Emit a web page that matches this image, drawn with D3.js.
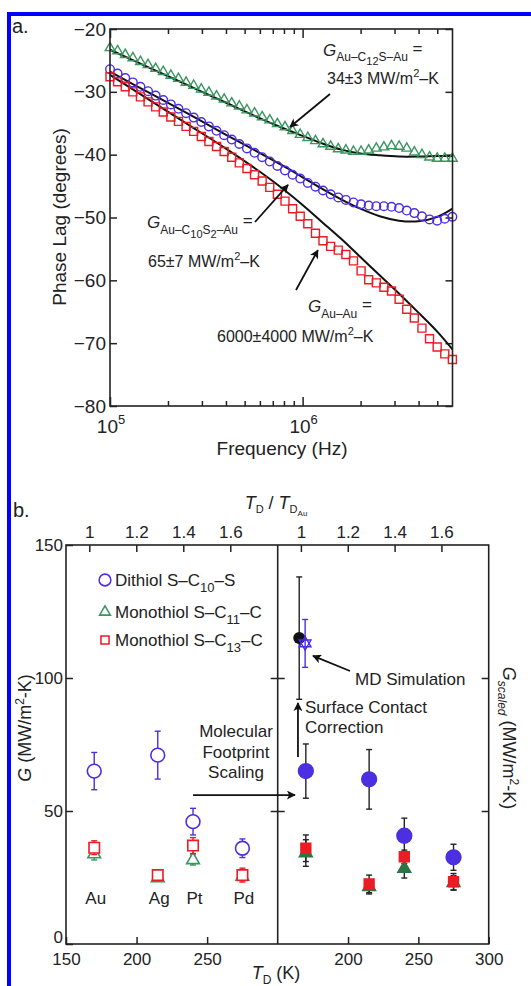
<!DOCTYPE html>
<html>
<head>
<meta charset="utf-8">
<script src="https://cdn.jsdelivr.net/npm/d3@7"></script>
<style>
  body { margin: 0; background: #fff; }
  text { font-family: "Liberation Sans", Arial, sans-serif; fill: #222; }
</style>
</head>
<body>
<div id="chart"></div>
<script>
const width = 531,
  height = 986;

// ---------- panel a : phase lag vs frequency ----------
const freqKHz = [100, 109.5, 120, 131.4, 143.9, 157.6, 172.6, 189, 207, 226.7, 248.3, 271.9, 297.8, 326.1,
  357.3, 391.3, 428.5, 469.3, 514, 562.9, 616.6, 675.2, 739.6, 810, 887.2, 971.6, 1064, 1166, 1276, 1398,
  1531, 1677, 1837, 2012, 2203, 2413, 2642, 2894, 3170, 3472, 3802, 4164, 4560, 4995, 5470, 5991];
const phaseC12 = [-23.0, -23.5, -24.1, -24.6, -25.2, -25.7, -26.3, -26.8, -27.4, -27.9, -28.5, -29.0, -29.6,
  -30.1, -30.7, -31.2, -31.8, -32.3, -32.9, -33.4, -34.0, -34.5, -35.1, -35.6, -36.2, -36.8, -37.3, -37.8,
  -38.3, -38.7, -39.1, -39.3, -39.5, -39.5, -39.3, -39.0, -38.8, -38.6, -38.7, -39.0, -39.6, -40.0, -40.4,
  -40.6, -40.6, -40.6];
const phaseC10S2 = [-26.4, -27.1, -27.8, -28.5, -29.2, -29.9, -30.6, -31.3, -32.0, -32.7, -33.4, -34.1, -34.8,
  -35.5, -36.2, -36.9, -37.6, -38.3, -39.0, -39.7, -40.4, -41.1, -41.8, -42.5, -43.2, -43.8, -44.5, -45.1,
  -45.7, -46.3, -46.8, -47.2, -47.6, -47.9, -48.1, -48.2, -48.2, -48.3, -48.5, -48.9, -49.3, -49.8, -50.3,
  -50.5, -50.2, -49.9];
const phaseAuAu = [-27.6, -28.4, -29.2, -30.0, -30.8, -31.6, -32.4, -33.2, -34.0, -34.7, -35.5, -36.3, -37.1,
  -37.9, -38.7, -39.5, -40.4, -41.3, -42.2, -43.2, -44.2, -45.2, -46.3, -47.4, -48.6, -49.8, -51.0, -52.5,
  -53.7, -54.6, -55.2, -55.9, -56.9, -58.5, -59.9, -60.4, -61.1, -61.7, -63.0, -64.6, -66.0, -67.6, -69.3,
  -70.6, -71.7, -72.6];

// fitted model curves
const fitFreqKHz = [100, 158.5, 251.2, 398.1, 631, 794.3, 1000, 1259, 1585, 1995, 2512, 3162, 3981, 5012, 6000];
const fitC12 = [-23.3, -26.1, -28.9, -31.7, -34.5, -35.8, -37.0, -38.2, -39.2, -39.8, -40.1, -40.3, -40.3, -40.2, -40.2];
const fitC10S2 = [-26.8, -30.1, -33.4, -36.8, -40.1, -41.8, -43.6, -45.4, -47.1, -48.6, -49.8, -50.5, -50.6, -49.9, -48.6];
const fitAuAu = [-27.3, -31.2, -35.1, -39.0, -43.2, -45.5, -48.0, -50.7, -53.4, -56.3, -59.2, -62.1, -65.1, -68.2, -71.0];

const phaseTicks = [-20, -30, -40, -50, -60, -70, -80];
const majorFreq = [1e5, 1e6];
const minorFreq = [2e5, 3e5, 4e5, 5e5, 6e5, 7e5, 8e5, 9e5, 2e6, 3e6, 4e6, 5e6];

// ---------- panel b : conductance vs Debye temperature ----------
const metals = ["Au", "Ag", "Pt", "Pd"];
const debyeT = [170, 215, 240, 275];
const gDithiol = [65, 71, 46, 36];
const eDithiol = [7, 9, 5, 3.5];
const gMono11 = [33.8, 24.8, 31.6, 25.4];
const eMono11 = [2.2, 0.8, 1.9, 1.5];
const gMono13 = [36.2, 25.9, 37, 25.9];
const eMono13 = [2.6, 1, 3, 2.6];
const gScDithiol = [65, 61.9, 40.7, 32.6];
const eScDithiol = [10.2, 11.2, 6.6, 4.9];
const gScMono11 = [34.2, 21.5, 28.4, 23];
const eScMono11 = [5, 2.7, 3.6, 2.7];
const gScMono13 = [36, 22.6, 32.8, 23.4];
const eScMono13 = [5, 3.3, 2.5, 3.1];
const corrected = { T: 165.3, G: 115, err: 23 };
const mdSim = { T: 169.5, G: 113, err: 9 };
const TDAu = 166.5;
const ratioTicks = [1, 1.2, 1.4, 1.6];
const gTicks = [0, 50, 100, 150];

const blue = "#4b2fe0",
  green = "#3a9660",
  dkgreen = "#2c7445",
  red = "#ec1c24";

const svg = d3
  .select("#chart")
  .append("svg")
  .attr("width", width)
  .attr("height", height);

svg.append("rect").attr("width", width).attr("height", height).attr("fill", "#fff");

// arrow head
svg
  .append("defs")
  .append("marker")
  .attr("id", "arr")
  .attr("viewBox", "0 0 10 10")
  .attr("refX", 9)
  .attr("refY", 5)
  .attr("markerWidth", 11)
  .attr("markerHeight", 9)
  .attr("markerUnits", "userSpaceOnUse")
  .attr("orient", "auto")
  .append("path")
  .attr("d", "M0,0 L10,5 L0,10 L2.5,5 Z")
  .attr("fill", "#111");

// text with sub/superscripts
function rich(parent, x, y, parts, size, anchor) {
  const t = parent
    .append("text")
    .attr("x", x)
    .attr("y", y)
    .attr("font-size", size)
    .attr("text-anchor", anchor || "start");
  let cur = 0;
  parts.forEach((p) => {
    const off = p.off || 0;
    t.append("tspan")
      .attr("dy", off - cur)
      .attr("font-size", p.size || size)
      .attr("font-style", p.it ? "italic" : null)
      .text(p.t);
    cur = off;
  });
  return t;
}

function arrow(parent, x1, y1, x2, y2) {
  parent
    .append("line")
    .attr("x1", x1)
    .attr("y1", y1)
    .attr("x2", x2)
    .attr("y2", y2)
    .attr("stroke", "#111")
    .attr("stroke-width", 1.8)
    .attr("marker-end", "url(#arr)");
}

function cleanAxis(g) {
  g.select(".domain").remove();
  g.selectAll(".tick line").attr("stroke", "#222").attr("stroke-width", 1.5);
  g.selectAll("text").attr("fill", "#222").attr("font-family", null);
}

// ================= Panel a =================
const xA = d3.scaleLog().domain([1e5, 6e6]).range([110, 452.5]);
const yA = d3.scaleLinear().domain([-80, -20]).range([406, 29]);
const pa = svg.append("g");

pa.append("g")
  .attr("transform", "translate(110,0)")
  .call(d3.axisLeft(yA).tickValues(phaseTicks).tickSize(-7).tickPadding(4).tickFormat(d3.format("d")))
  .call(cleanAxis)
  .selectAll("text")
  .attr("font-size", 19);
pa.append("g")
  .attr("transform", "translate(452.5,0)")
  .call(d3.axisRight(yA).tickValues(phaseTicks).tickSize(-7).tickFormat(""))
  .call(cleanAxis);
[[406, d3.axisBottom], [29, d3.axisTop]].forEach(([y, ax]) => {
  pa.append("g")
    .attr("transform", `translate(0,${y})`)
    .call(ax(xA).tickValues(majorFreq).tickSize(-9).tickFormat(""))
    .call(cleanAxis);
  pa.append("g")
    .attr("transform", `translate(0,${y})`)
    .call(ax(xA).tickValues(minorFreq).tickSize(-5).tickFormat(""))
    .call(cleanAxis);
});
majorFreq.forEach((f) => {
  rich(pa, xA(f) + 1, 433, [{ t: "10" }, { t: String(Math.log10(f)), size: 13, off: -9 }], 19, "middle");
});

// fits
const fitLine = d3
  .line()
  .curve(d3.curveCatmullRom)
  .x((d) => xA(d[0] * 1000))
  .y((d) => yA(d[1]));
[fitC12, fitC10S2, fitAuAu].forEach((fit) => {
  pa.append("path")
    .attr("d", fitLine(fitFreqKHz.map((f, i) => [f, fit[i]])))
    .attr("fill", "none")
    .attr("stroke", "#111")
    .attr("stroke-width", 2);
});

// data markers
const triSym = d3.symbol(d3.symbolTriangle).size(40)();
const sqSym = d3.symbol(d3.symbolSquare).size(64)();
pa.append("g")
  .selectAll("path")
  .data(phaseC12)
  .enter()
  .append("path")
  .attr("d", triSym)
  .attr("transform", (d, i) => `translate(${xA(freqKHz[i] * 1000)},${yA(d)})`)
  .attr("fill", "none")
  .attr("stroke", green)
  .attr("stroke-width", 1.4);
pa.append("g")
  .selectAll("circle")
  .data(phaseC10S2)
  .enter()
  .append("circle")
  .attr("cx", (d, i) => xA(freqKHz[i] * 1000))
  .attr("cy", (d) => yA(d))
  .attr("r", 4.3)
  .attr("fill", "none")
  .attr("stroke", blue)
  .attr("stroke-width", 1.4);
pa.append("g")
  .selectAll("path")
  .data(phaseAuAu)
  .enter()
  .append("path")
  .attr("d", sqSym)
  .attr("transform", (d, i) => `translate(${xA(freqKHz[i] * 1000)},${yA(d)})`)
  .attr("fill", "none")
  .attr("stroke", red)
  .attr("stroke-width", 1.4);

pa.append("rect")
  .attr("x", 110)
  .attr("y", 29)
  .attr("width", 342.5)
  .attr("height", 377)
  .attr("fill", "none")
  .attr("stroke", "#222")
  .attr("stroke-width", 1.6);

// annotations
rich(pa, 323, 56, [{ t: "G", it: true }, { t: "Au–C", size: 12, off: 5 }, { t: "12", size: 11, off: 9 },
  { t: "S–Au", size: 12, off: 5 }, { t: " =", off: -2 }], 17);
rich(pa, 327, 84, [{ t: "34±3 MW/m" }, { t: "2", size: 11, off: -7 }, { t: "–K", off: 0 }], 16);
arrow(pa, 330, 94, xA(860e3), yA(-35.6));

rich(pa, 147, 228, [{ t: "G", it: true }, { t: "Au–C", size: 12, off: 6 }, { t: "10", size: 11, off: 10 },
  { t: "S", size: 12, off: 6 }, { t: "2", size: 11, off: 10 }, { t: "–Au", size: 12, off: 6 },
  { t: " =", off: -2 }], 17);
rich(pa, 148, 267, [{ t: "65±7 MW/m" }, { t: "2", size: 11, off: -7 }, { t: "–K", off: 0 }], 16);
arrow(pa, 255, 222, xA(840e3), yA(-44.8));

rich(pa, 308, 312, [{ t: "G", it: true }, { t: "Au–Au", size: 12, off: 6 }, { t: " =", off: -2 }], 17);
rich(pa, 217, 342, [{ t: "6000±4000 MW/m" }, { t: "2", size: 11, off: -7 }, { t: "–K", off: 0 }], 16);
arrow(pa, 296, 290, xA(1.2e6), yA(-55.2));

pa.append("text").attr("x", 282).attr("y", 455).attr("font-size", 19).attr("text-anchor", "middle").text("Frequency (Hz)");
pa.append("text")
  .attr("transform", "translate(66,217) rotate(-90)")
  .attr("font-size", 19)
  .attr("text-anchor", "middle")
  .text("Phase Lag (degrees)");
pa.append("text").attr("x", 12).attr("y", 33).attr("font-size", 20).text("a.");

// ================= Panel b =================
const xL = d3.scaleLinear().domain([150, 300]).range([66, 277.7]);
const xR = d3.scaleLinear().domain([150, 300]).range([277.7, 488.7]);
const yB = d3.scaleLinear().domain([0, 150]).range([944, 545]);
const rL = d3.scaleLinear().domain([150 / TDAu, 300 / TDAu]).range([66, 277.7]);
const rR = d3.scaleLinear().domain([150 / TDAu, 300 / TDAu]).range([277.7, 488.7]);
const pb = svg.append("g");

pb.append("g")
  .attr("transform", "translate(66,0)")
  .call(d3.axisLeft(yB).tickValues(gTicks).tickSize(-7).tickPadding(3))
  .call(cleanAxis)
  .selectAll("text")
  .attr("font-size", 17)
  .attr("dy", (d) => (d === 0 ? "-0.1em" : "0.32em"));
pb.append("g")
  .attr("transform", "translate(277.7,0)")
  .call(d3.axisLeft(yB).tickValues([50, 100]).tickSize(7).tickFormat(""))
  .call(cleanAxis);
pb.append("g")
  .attr("transform", "translate(277.7,0)")
  .call(d3.axisRight(yB).tickValues([50, 100]).tickSize(7).tickFormat(""))
  .call(cleanAxis);
pb.append("g")
  .attr("transform", "translate(488.7,0)")
  .call(d3.axisRight(yB).tickValues([50, 100]).tickSize(-7).tickFormat(""))
  .call(cleanAxis);
[[xL, [150, 200, 250]], [xR, [200, 250, 300]]].forEach(([sc, tv]) => {
  pb.append("g")
    .attr("transform", "translate(0,944)")
    .call(d3.axisBottom(sc).tickValues(tv).tickSize(-7).tickPadding(9))
    .call(cleanAxis)
    .selectAll("text")
    .attr("font-size", 17);
});
[rL, rR].forEach((sc) => {
  pb.append("g")
    .attr("transform", "translate(0,545)")
    .call(d3.axisTop(sc).tickValues(ratioTicks).tickSize(-7).tickPadding(7).tickFormat((d) => String(d)))
    .call(cleanAxis)
    .selectAll("text")
    .attr("font-size", 17);
});

pb.append("rect")
  .attr("x", 66)
  .attr("y", 545)
  .attr("width", 422.7)
  .attr("height", 399)
  .attr("fill", "none")
  .attr("stroke", "#222")
  .attr("stroke-width", 1.6);
pb.append("line").attr("x1", 277.7).attr("x2", 277.7).attr("y1", 545).attr("y2", 944)
  .attr("stroke", "#222").attr("stroke-width", 1.6);

function errBars(sc, vals, errs, color) {
  const g = pb.append("g").attr("stroke", color).attr("stroke-width", 1.4);
  vals.forEach((v, i) => {
    const x = sc(debyeT[i]);
    g.append("line").attr("x1", x).attr("x2", x).attr("y1", yB(v - errs[i])).attr("y2", yB(v + errs[i]));
    [v - errs[i], v + errs[i]].forEach((e) => {
      g.append("line").attr("x1", x - 3).attr("x2", x + 3).attr("y1", yB(e)).attr("y2", yB(e));
    });
  });
}
const bigTri = d3.symbol(d3.symbolTriangle).size(70)();
const bigSq = d3.symbol(d3.symbolSquare).size(110)();
function markers(sc, vals, sym, color, filled) {
  pb.append("g")
    .selectAll("path")
    .data(vals)
    .enter()
    .append("path")
    .attr("d", sym)
    .attr("transform", (d, i) => `translate(${sc(debyeT[i])},${yB(d)})`)
    .attr("fill", filled ? color : "#fff")
    .attr("stroke", color)
    .attr("stroke-width", 1.6);
}
const circSym = d3.symbol(d3.symbolCircle).size(150)();

// left: measured
errBars(xL, gMono11, eMono11, green);
markers(xL, gMono11, bigTri, green, false);
errBars(xL, gMono13, eMono13, red);
markers(xL, gMono13, bigSq, red, false);
errBars(xL, gDithiol, eDithiol, blue);
markers(xL, gDithiol, circSym, blue, false);

// right: scaled
errBars(xR, gScMono11, eScMono11, "#222");
errBars(xR, gScMono13, eScMono13, "#222");
errBars(xR, gScDithiol, eScDithiol, "#222");
markers(xR, gScMono11, bigTri, dkgreen, true);
markers(xR, gScMono13, d3.symbol(d3.symbolSquare).size(95)(), red, true);
markers(xR, gScDithiol, d3.symbol(d3.symbolCircle).size(170)(), blue, true);

// corrected value and MD simulation
[[corrected, "#222"], [mdSim, blue]].forEach(([p, c]) => {
  const x = xR(p.T);
  const g = pb.append("g").attr("stroke", c).attr("stroke-width", 1.4);
  g.append("line").attr("x1", x).attr("x2", x).attr("y1", yB(p.G - p.err)).attr("y2", yB(p.G + p.err));
  [p.G - p.err, p.G + p.err].forEach((e) => {
    g.append("line").attr("x1", x - 3).attr("x2", x + 3).attr("y1", yB(e)).attr("y2", yB(e));
  });
});
pb.append("circle").attr("cx", xR(corrected.T)).attr("cy", yB(corrected.G)).attr("r", 6).attr("fill", "#111");
const star = d3.symbol(d3.symbolTriangle).size(60)();
[0, 180].forEach((rot) => {
  pb.append("path")
    .attr("d", star)
    .attr("transform", `translate(${xR(mdSim.T)},${yB(mdSim.G)}) rotate(${rot})`)
    .attr("fill", "none")
    .attr("stroke", blue)
    .attr("stroke-width", 1.4);
});

// metal labels
metals.forEach((m, i) => {
  pb.append("text")
    .attr("x", xL(debyeT[i]) + 1.5)
    .attr("y", 904)
    .attr("font-size", 17)
    .attr("text-anchor", "middle")
    .text(m);
});

// legend
const legend = [
  { sym: circSym, color: blue, y: 580, parts: [{ t: "Dithiol S–C" }, { t: "10", size: 13, off: 6 }, { t: "–S", off: 0 }] },
  { sym: bigTri, color: green, y: 612, parts: [{ t: "Monothiol S–C" }, { t: "11", size: 13, off: 6 }, { t: "–C", off: 0 }] },
  { sym: d3.symbol(d3.symbolSquare).size(90)(), color: red, y: 640, parts: [{ t: "Monothiol S–C" }, { t: "13", size: 13, off: 6 }, { t: "–C", off: 0 }] },
];
legend.forEach((l) => {
  pb.append("path")
    .attr("d", l.sym)
    .attr("transform", `translate(105,${l.y}) scale(0.85)`)
    .attr("fill", "#fff")
    .attr("stroke", l.color)
    .attr("stroke-width", 1.8);
  rich(pb, 115, l.y + 6, l.parts, 17);
});

// annotations
["Molecular", "Footprint", "Scaling"].forEach((s, i) => {
  pb.append("text").attr("x", 236).attr("y", 737 + i * 20.5).attr("font-size", 17).attr("text-anchor", "middle").text(s);
});
arrow(pb, xL(240), yB(56), xR(162.3), yB(56));
["Surface Contact", "Correction"].forEach((s, i) => {
  pb.append("text").attr("x", 305).attr("y", 713 + i * 20).attr("font-size", 17).text(s);
});
arrow(pb, xR(164.4), yB(70.3), xR(164.4), yB(90.6));
pb.append("text").attr("x", 355).attr("y", 685).attr("font-size", 17).text("MD Simulation");
arrow(pb, 350, 671, xR(175.1), yB(108.3));

// axis titles
rich(pb, 276, 509, [{ t: "T", it: true }, { t: "D", size: 11, off: 4 }, { t: " / ", off: 0 }, { t: "T", it: true },
  { t: "D", size: 11, off: 4 }, { t: "Au", size: 8, off: 7 }], 18, "middle");
rich(pb, 276, 979, [{ t: "T", it: true }, { t: "D", size: 12, off: 5 }, { t: " (K)", off: 0 }], 18, "middle");
rich(pb.append("g").attr("transform", "translate(31,728) rotate(-90)"), 0, 0,
  [{ t: "G", it: true }, { t: " (MW/m" }, { t: "2", size: 12, off: -7 }, { t: "-K)", off: 0 }], 18, "middle");
rich(pb.append("g").attr("transform", "translate(503,738) rotate(90)"), 0, 0,
  [{ t: "G", it: true }, { t: "scaled", it: true, size: 12, off: 5 }, { t: " (MW/m", off: 0 },
    { t: "2", size: 12, off: -7 }, { t: "-K)", off: 0 }], 18, "middle");
pb.append("text").attr("x", 13).attr("y", 517).attr("font-size", 20).text("b.");

// blue frame
svg.append("rect").attr("x", 7).attr("y", 12).attr("width", 4).attr("height", height - 12).attr("fill", "#0000ff");
svg.append("rect").attr("x", 7).attr("y", 12).attr("width", width - 7).attr("height", 4).attr("fill", "#0000ff");
</script>
</body>
</html>
